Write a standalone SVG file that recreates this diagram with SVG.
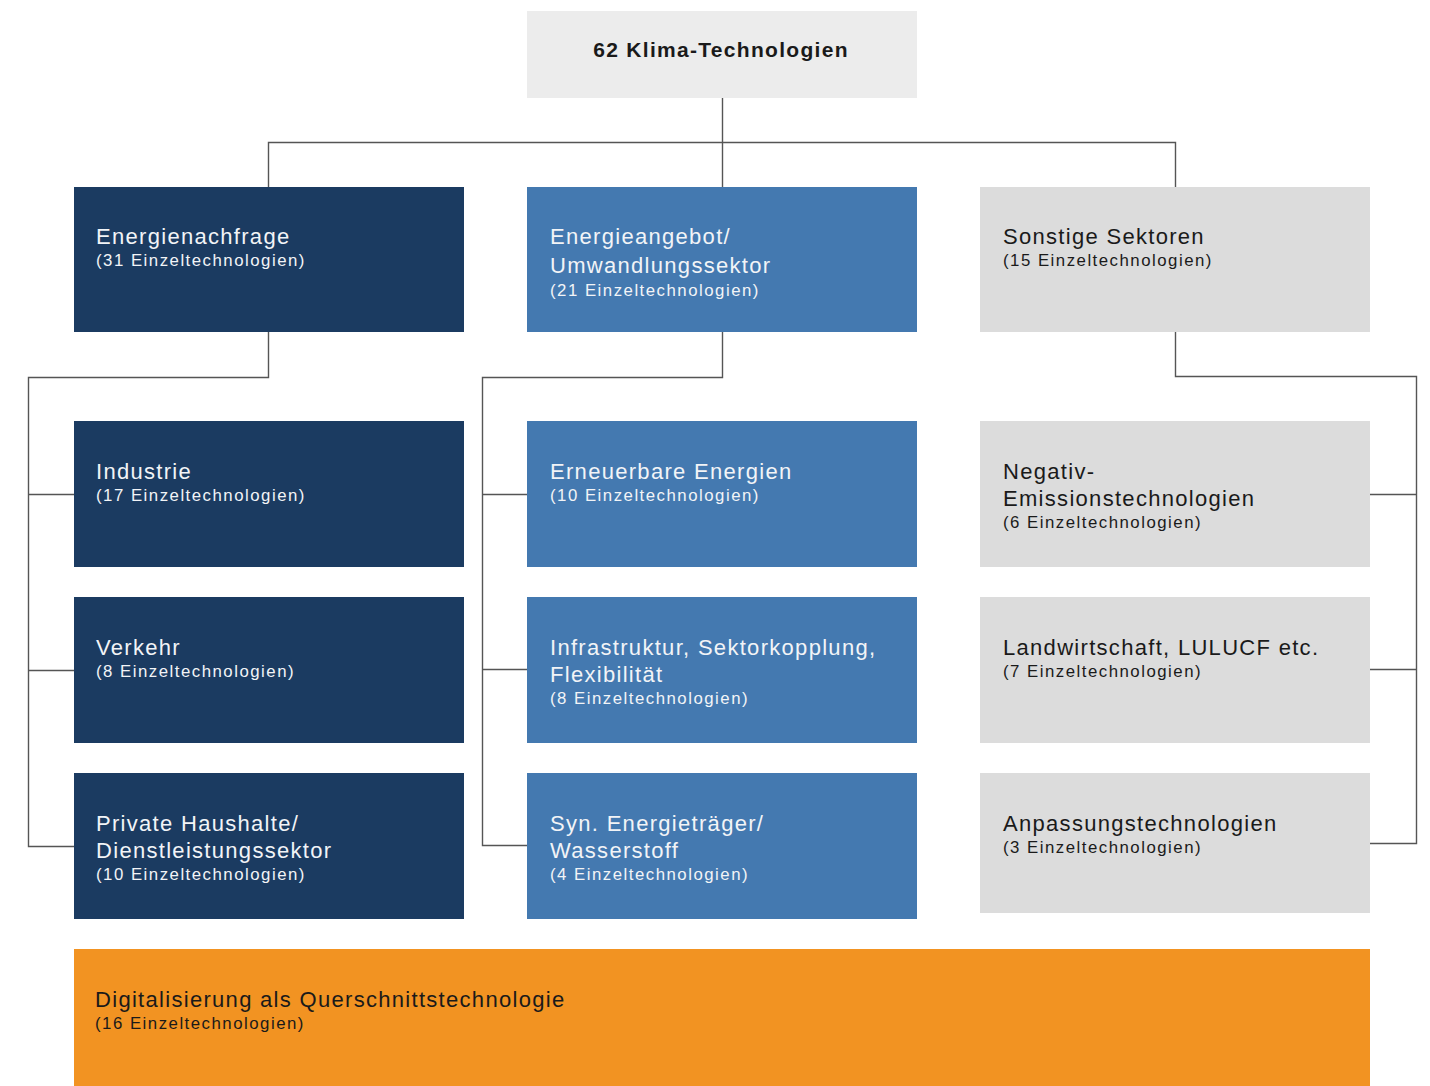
<svg xmlns="http://www.w3.org/2000/svg" width="1430" height="1086" viewBox="0 0 1430 1086">
  <style>
    .t { font-family: "Liberation Sans", Arial, sans-serif; font-size: 22px; letter-spacing: 1.3px; }
    .s { font-family: "Liberation Sans", Arial, sans-serif; font-size: 16.8px; letter-spacing: 1.5px; }
    .light { fill: #f2f4f7; }
    .dark { fill: #1a1a1a; }
    .navy { fill: #1b3b61; }
    .blue { fill: #4479b0; }
    .gray { fill: #dcdcdc; }
    .line { fill: none; stroke: #555555; stroke-width: 1.4; }
  </style>
  <rect width="1430" height="1086" fill="#ffffff"/>

  <!-- connectors -->
  <g id="connectors" class="line">
    <path d="M722.5 98 V142.5 M268.5 187 V142.5 H1175.5 V187 M722.5 142.5 V187"/>
    <path d="M268.5 332 V377.5 H28.5 V846.5 H74 M28.5 494.5 H74 M28.5 670.5 H74"/>
    <path d="M722.5 332 V377.5 H482.5 V845.5 H527 M482.5 494.5 H527 M482.5 669.5 H527"/>
    <path d="M1175.5 332 V376.5 H1416.5 V843.5 H1370 M1416.5 494.5 H1370 M1416.5 669.5 H1370"/>
  </g>

  <!-- root -->
  <g id="root">
    <rect x="527" y="11" width="390" height="87" fill="#ececec"/>
    <text x="721" y="57" text-anchor="middle" class="dark" style="font-family:'Liberation Sans',Arial,sans-serif;font-size:21px;font-weight:bold;letter-spacing:1.3px">62 Klima-Technologien</text>
  </g>

  <!-- column 1: Energienachfrage -->
  <g id="energienachfrage">
    <rect x="74" y="187" width="390" height="145" class="navy"/>
    <text x="96" y="244" class="t light">Energienachfrage</text>
    <text x="96" y="266" class="s light">(31 Einzeltechnologien)</text>
  </g>
  <g id="industrie">
    <rect x="74" y="421" width="390" height="146" class="navy"/>
    <text x="96" y="479" class="t light">Industrie</text>
    <text x="96" y="501" class="s light">(17 Einzeltechnologien)</text>
  </g>
  <g id="verkehr">
    <rect x="74" y="597" width="390" height="146" class="navy"/>
    <text x="96" y="655" class="t light">Verkehr</text>
    <text x="96" y="677" class="s light">(8 Einzeltechnologien)</text>
  </g>
  <g id="haushalte">
    <rect x="74" y="773" width="390" height="146" class="navy"/>
    <text x="96" y="831" class="t light">Private Haushalte/</text>
    <text x="96" y="858" class="t light">Dienstleistungssektor</text>
    <text x="96" y="880" class="s light">(10 Einzeltechnologien)</text>
  </g>

  <!-- column 2: Energieangebot -->
  <g id="energieangebot">
    <rect x="527" y="187" width="390" height="145" class="blue"/>
    <text x="550" y="244" class="t light">Energieangebot/</text>
    <text x="550" y="273" class="t light">Umwandlungssektor</text>
    <text x="550" y="296" class="s light">(21 Einzeltechnologien)</text>
  </g>
  <g id="erneuerbare">
    <rect x="527" y="421" width="390" height="146" class="blue"/>
    <text x="550" y="479" class="t light">Erneuerbare Energien</text>
    <text x="550" y="501" class="s light">(10 Einzeltechnologien)</text>
  </g>
  <g id="infrastruktur">
    <rect x="527" y="597" width="390" height="146" class="blue"/>
    <text x="550" y="655" class="t light">Infrastruktur, Sektorkopplung,</text>
    <text x="550" y="682" class="t light">Flexibilität</text>
    <text x="550" y="704" class="s light">(8 Einzeltechnologien)</text>
  </g>
  <g id="syn-energietraeger">
    <rect x="527" y="773" width="390" height="146" class="blue"/>
    <text x="550" y="831" class="t light">Syn. Energieträger/</text>
    <text x="550" y="858" class="t light">Wasserstoff</text>
    <text x="550" y="880" class="s light">(4 Einzeltechnologien)</text>
  </g>

  <!-- column 3: Sonstige Sektoren -->
  <g id="sonstige">
    <rect x="980" y="187" width="390" height="145" class="gray"/>
    <text x="1003" y="244" class="t dark">Sonstige Sektoren</text>
    <text x="1003" y="266" class="s dark">(15 Einzeltechnologien)</text>
  </g>
  <g id="negativ">
    <rect x="980" y="421" width="390" height="146" class="gray"/>
    <text x="1003" y="479" class="t dark">Negativ-</text>
    <text x="1003" y="506" class="t dark">Emissionstechnologien</text>
    <text x="1003" y="528" class="s dark">(6 Einzeltechnologien)</text>
  </g>
  <g id="landwirtschaft">
    <rect x="980" y="597" width="390" height="146" class="gray"/>
    <text x="1003" y="655" class="t dark">Landwirtschaft, LULUCF etc.</text>
    <text x="1003" y="677" class="s dark">(7 Einzeltechnologien)</text>
  </g>
  <g id="anpassung">
    <rect x="980" y="773" width="390" height="140" class="gray"/>
    <text x="1003" y="831" class="t dark">Anpassungstechnologien</text>
    <text x="1003" y="853" class="s dark">(3 Einzeltechnologien)</text>
  </g>

  <!-- cross-cutting band -->
  <g id="digitalisierung">
    <rect x="74" y="949" width="1296" height="137" fill="#f29322"/>
    <text x="95" y="1007" class="t dark">Digitalisierung als Querschnittstechnologie</text>
    <text x="95" y="1029" class="s dark">(16 Einzeltechnologien)</text>
  </g>
</svg>
